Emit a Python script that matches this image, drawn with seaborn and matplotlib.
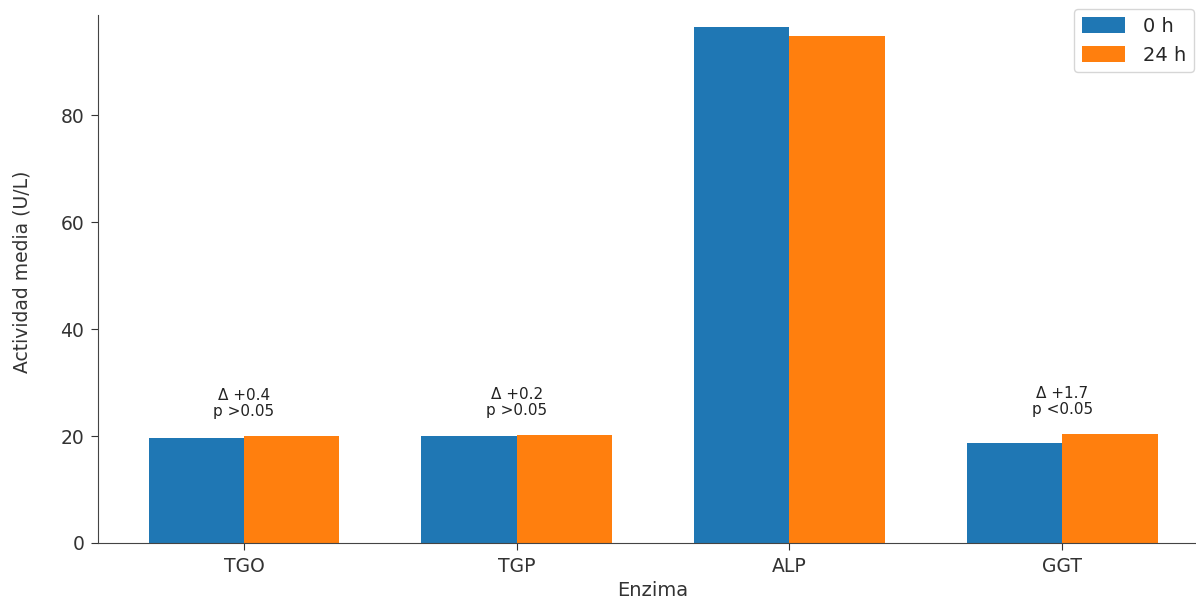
import matplotlib
matplotlib.use("Agg")
import matplotlib.pyplot as plt
import seaborn as sns
import pandas as pd

enzymes = ["TGO", "TGP", "ALP", "GGT"]
values_0h = [19.6, 20.0, 96.4, 18.7]
values_24h = [20.0, 20.2, 94.8, 20.4]
time_labels = ["0 h", "24 h"]
delta_labels = ["Δ +0.4", "Δ +0.2", "", "Δ +1.7"]
p_labels = ["p >0.05", "p >0.05", "", "p <0.05"]

df = pd.DataFrame({
    "Enzima": enzymes * 2,
    "Tiempo": [time_labels[0]] * 4 + [time_labels[1]] * 4,
    "Actividad": values_0h + values_24h,
})

sns.set_style("ticks")
plt.rcParams["font.family"] = ["DejaVu Sans"]

fig = plt.figure(figsize=(11.96, 6.0), dpi=100)
ax = fig.add_axes([0.082, 0.095, 0.928, 0.88])

sns.barplot(data=df, x="Enzima", y="Actividad", hue="Tiempo",
            palette=["#1f77b4", "#ff7f0e"], saturation=1, width=0.7,
            errorbar=None, linewidth=0, edgecolor="none", ax=ax)

for i, (d, p) in enumerate(zip(delta_labels, p_labels)):
    if d:
        top = max(values_0h[i], values_24h[i])
        ax.text(i, top + 3.2, f"{d}\n{p}", ha="center", va="bottom",
                fontsize=11, color="#222222", linespacing=1.1)

ax.set_xlim(-0.535, 3.535)
ax.set_ylim(0, 98.7)
ax.set_xlabel("Enzima", fontsize=14, color="#333333")
ax.set_ylabel("Actividad media (U/L)", fontsize=13.5, color="#333333")
ax.yaxis.set_label_coords(-0.06, 0.513)
ax.tick_params(labelsize=13.5, colors="#333333", length=5, pad=5)
for s in ax.spines.values():
    s.set_color("#444444")
sns.despine(ax=ax)
ax.legend(loc="upper right", fontsize=14, handlelength=2.2, handleheight=0.9,
          handletextpad=0.95, title=None, bbox_to_anchor=(0.9946, 1.026),
          borderaxespad=0.4)

fig.savefig("out.png", dpi=100)
